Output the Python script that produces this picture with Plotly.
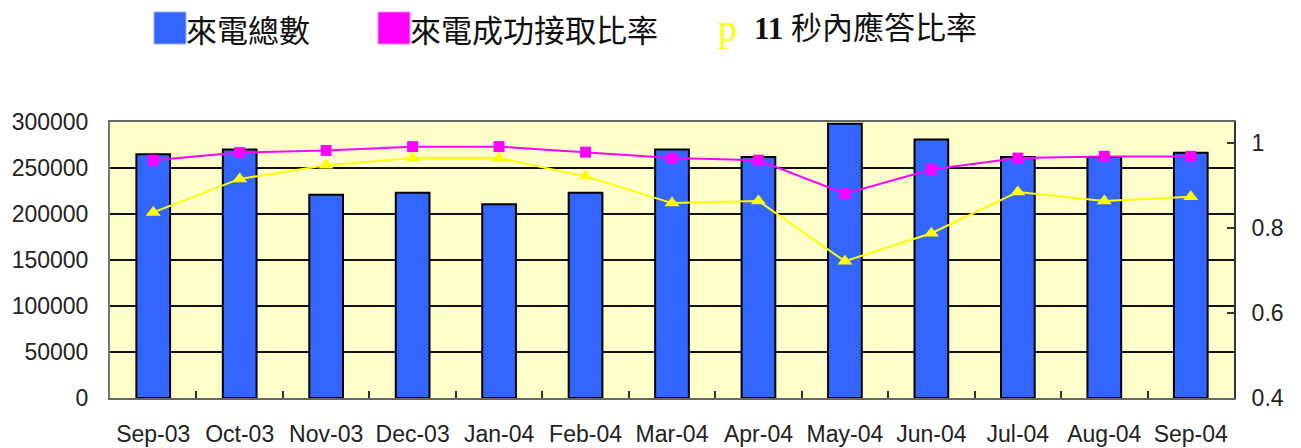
import plotly.graph_objects as go

months = ["Sep-03", "Oct-03", "Nov-03", "Dec-03", "Jan-04", "Feb-04", "Mar-04",
          "Apr-04", "May-04", "Jun-04", "Jul-04", "Aug-04", "Sep-04"]
calls_total = [265000, 270000, 221000, 223000, 210500, 223000, 270000,
               262000, 298000, 281000, 262000, 262000, 266500]
success_rate = [0.960, 0.978, 0.983, 0.992, 0.992, 0.979, 0.965,
                0.960, 0.881, 0.938, 0.965, 0.969, 0.969]
answer_11s_rate = [0.837, 0.916, 0.948, 0.965, 0.965, 0.922, 0.859,
                   0.864, 0.722, 0.788, 0.885, 0.864, 0.874]

left_ticks = [0, 50000, 100000, 150000, 200000, 250000, 300000]
right_ticks = [0.4, 0.6, 0.8, 1.0]
right_tick_text = ["0.4", "0.6", "0.8", "1"]

W, H = 1301, 448
ML, MR, MT, MB = 110, 67, 122, 50
PW, PH = W - ML - MR, H - MT - MB


def px(x):
    return (x - ML) / PW


def py(y):
    return (H - MB - y) / PH


fig = go.Figure()
fig.add_trace(go.Bar(
    x=months, y=calls_total, name="來電總數",
    marker=dict(color="#3366FF", line=dict(color="#000000", width=2)),
    yaxis="y",
))
fig.add_trace(go.Scatter(
    x=months, y=success_rate, name="來電成功接取比率", yaxis="y2",
    mode="lines+markers",
    line=dict(color="#FF00FF", width=2),
    marker=dict(symbol="square", size=11, color="#FF00FF"),
))
fig.add_trace(go.Scatter(
    x=months, y=answer_11s_rate, name="11 秒內應答比率", yaxis="y2",
    mode="lines+markers",
    line=dict(color="#FFFF00", width=2),
    marker=dict(symbol="triangle-up", size=13, color="#FFFF00"),
))

tick_font = dict(family="Liberation Sans, Arial, sans-serif", size=23, color="#222222")

fig.update_layout(
    width=W, height=H,
    margin=dict(l=ML, r=MR, t=MT, b=MB, pad=0, autoexpand=False),
    paper_bgcolor="#FFFFFF",
    plot_bgcolor="#FFFFCC",
    showlegend=False,
    bargap=0.61,
    xaxis=dict(
        type="category", range=[-0.5, len(months) - 0.5],
        tickfont=tick_font, tickangle=0, automargin=False,
        showline=True, linecolor="#666666", linewidth=2, mirror=True,
        ticks="inside", tickson="boundaries", ticklen=7, tickcolor="#333333", tickwidth=2,
        ticklabelstandoff=14, showgrid=False,
    ),
    yaxis=dict(
        range=[0, 300000], tickvals=left_ticks, ticktext=[str(v) for v in left_ticks],
        tickfont=tick_font, showgrid=True, gridcolor="#111111", gridwidth=2,
        showline=True, linecolor="#777777", linewidth=2, ticks="", automargin=False,
        ticklabelstandoff=15, zeroline=False,
    ),
    yaxis2=dict(
        overlaying="y", side="right", range=[0.4, 1.05],
        tickvals=right_ticks, ticktext=right_tick_text, tickfont=tick_font,
        showgrid=False, showline=True, linecolor="#333333", linewidth=2,
        ticks="inside", ticklen=7, tickcolor="#333333", tickwidth=2, automargin=False,
        ticklabelstandoff=11, zeroline=False,
    ),
)

# legend (drawn manually to mimic original)
legend_font = dict(family="Noto Sans CJK TC", size=31, color="#111111")
fig.add_shape(type="rect", xref="paper", yref="paper",
              x0=px(154), x1=px(186), y0=py(44), y1=py(12),
              fillcolor="#3366FF", line=dict(color="#99AAFF", width=1))
fig.add_annotation(xref="paper", yref="paper", x=px(184), y=py(28),
                   xanchor="left", yanchor="middle", showarrow=False,
                   text="來電總數", font=legend_font)
fig.add_shape(type="rect", xref="paper", yref="paper",
              x0=px(378), x1=px(410), y0=py(44), y1=py(12),
              fillcolor="#FF00FF", line=dict(color="#FF88FF", width=1))
fig.add_annotation(xref="paper", yref="paper", x=px(408), y=py(28),
                   xanchor="left", yanchor="middle", showarrow=False,
                   text="來電成功接取比率", font=legend_font)
fig.add_annotation(xref="paper", yref="paper", x=px(716), y=py(28),
                   xanchor="left", yanchor="middle", showarrow=False,
                   text="p", font=dict(family="Liberation Serif", size=38, color="#FFFF00"))
fig.add_annotation(xref="paper", yref="paper", x=px(752), y=py(28),
                   xanchor="left", yanchor="middle", showarrow=False,
                   text="<b>11</b> 秒內應答比率",
                   font=dict(family="Liberation Serif, Noto Sans CJK TC", size=31, color="#111111"))

fig.write_html(
    "out.html",
    config={"displayModeBar": False},
    post_script="document.body.style.margin='0';document.body.style.overflow='hidden';",
)
